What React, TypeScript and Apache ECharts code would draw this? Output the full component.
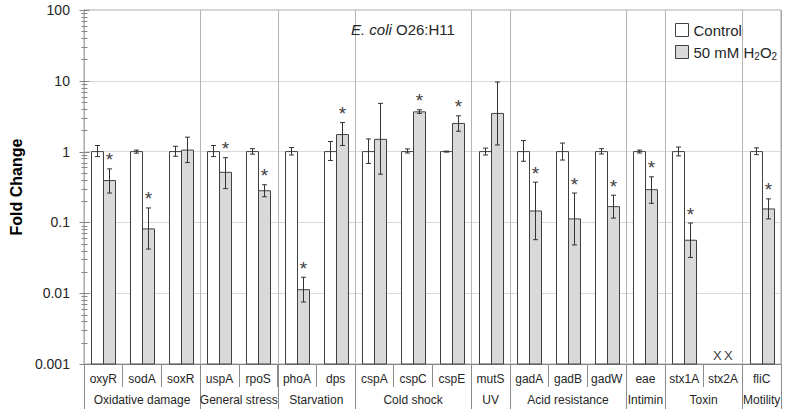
import React, { useEffect, useRef } from 'react';
import * as echarts from 'echarts';

const genes = ['oxyR', 'sodA', 'soxR', 'uspA', 'rpoS', 'phoA', 'dps', 'cspA', 'cspC', 'cspE', 'mutS', 'gadA', 'gadB', 'gadW', 'eae', 'stx1A', 'stx2A', 'fliC'];
const groupNames = ['Oxidative damage', 'General stress', 'Starvation', 'Cold shock', 'UV', 'Acid resistance', 'Intimin', 'Toxin', 'Motility'];
const groupSizes = [3, 2, 2, 3, 1, 3, 1, 2, 1];

const control = [1, 1, 1, 1, 1, 1, 1, 1, 1, 1, 1, 1, 1, 1, 1, 1, null, 1];
const controlLow = [0.85, 0.95, 0.86, 0.85, 0.92, 0.895, 0.75, 0.68, 0.955, 0.985, 0.895, 0.73, 0.76, 0.925, 0.955, 0.87, null, 0.905];
const controlHigh = [1.22, 1.05, 1.19, 1.22, 1.1, 1.14, 1.39, 1.51, 1.09, 1.015, 1.12, 1.43, 1.32, 1.1, 1.05, 1.16, null, 1.13];

const treated = [0.39, 0.081, 1.05, 0.51, 0.28, 0.0112, 1.74, 1.49, 3.64, 2.5, 3.46, 0.145, 0.112, 0.167, 0.29, 0.056, null, 0.155];
const treatedLow = [0.26, 0.042, 0.7, 0.3, 0.23, 0.0075, 1.22, 0.48, 3.46, 1.94, 1.24, 0.057, 0.048, 0.115, 0.186, 0.032, null, 0.112];
const treatedHigh = [0.57, 0.16, 1.6, 0.82, 0.34, 0.0168, 2.57, 4.8, 3.9, 3.2, 9.6, 0.37, 0.26, 0.242, 0.44, 0.098, null, 0.215];
const significant = [1, 1, 0, 1, 1, 1, 1, 0, 1, 1, 0, 1, 1, 1, 1, 1, 0, 1];
const notDetected = ['stx2A'];

const yTickValues = [0.001, 0.01, 0.1, 1, 10, 100];
const yTickLabels = ['0.001', '0.01', '0.1', '1', '10', '100'];

const FONT = '"Liberation Sans", Arial, sans-serif';
const TEXT = '#262626';
const BAR_EDGE = '#404040';
const ERR = '#333333';
const Y_MIN = yTickValues[0];
const Y_MAX = yTickValues[yTickValues.length - 1];

export default function App() {
  const ref = useRef<HTMLDivElement>(null);
  useEffect(() => {
    const chart = echarts.init(ref.current!, null, { renderer: 'svg' });

    const barRender = (offset: number, fill: string) => (params: any, api: any) => {
      const i = api.value(0);
      const v = api.value(1);
      if (!(v > 0)) return null;
      const lo = api.value(2);
      const hi = api.value(3);
      const sig = api.value(4);
      const p = api.coord([i, v]);
      const base = api.coord([i, Y_MIN])[1];
      const cx = Math.round(p[0] + offset) + 0.5;
      const yHi = api.coord([i, hi])[1];
      const yLo = api.coord([i, lo])[1];
      const es = { stroke: ERR, lineWidth: 1 };
      const children: any[] = [
        { type: 'rect', shape: { x: cx - 6, y: p[1], width: 12, height: base - p[1] }, style: { fill, stroke: BAR_EDGE, lineWidth: 1 } },
        { type: 'line', shape: { x1: cx, y1: yHi, x2: cx, y2: yLo }, style: es },
        { type: 'line', shape: { x1: cx - 2.5, y1: yHi, x2: cx + 2.5, y2: yHi }, style: es },
        { type: 'line', shape: { x1: cx - 2.5, y1: yLo, x2: cx + 2.5, y2: yLo }, style: es },
      ];
      if (sig) {
        children.push({
          type: 'text', x: cx, y: yHi - 9,
          style: { text: '*', fontSize: 19, fontFamily: FONT, fill: '#404040', align: 'center', verticalAlign: 'middle' },
        });
      }
      return { type: 'group', children };
    };

    const controlData = genes.map((g, i) => [i, control[i], controlLow[i], controlHigh[i], 0]);
    const treatedData = genes.map((g, i) => [i, treated[i], treatedLow[i], treatedHigh[i], significant[i]]);

    const groupData: any[] = [];
    let start = 0;
    groupNames.forEach((name, gi) => {
      groupData.push([start, 1, start + groupSizes[gi] - 1, gi]);
      start += groupSizes[gi];
    });

    const minorTicks: number[] = [];
    for (let d = 0; d < yTickValues.length - 1; d++) {
      for (let k = 2; k <= 9; k++) minorTicks.push(yTickValues[d] * k);
    }
    const tickData = [
      ...yTickValues.map((v) => [0, v, 1]),
      ...minorTicks.map((v) => [0, v, 0]),
    ];

    const option: any = {
      animation: false,
      textStyle: { fontFamily: FONT },
      grid: { left: 60, right: 6, top: 10, bottom: 47, show: true, borderColor: '#a6a6a6', borderWidth: 1, containLabel: false },
      title: {
        text: '{i|E. coli} O26:H11',
        left: 346,
        top: 17,
        textStyle: {
          fontFamily: FONT, fontSize: 15, fontWeight: 'normal', color: TEXT,
          rich: { i: { fontFamily: FONT, fontSize: 15, fontStyle: 'italic', color: TEXT } },
        },
      },
      legend: {
        orient: 'vertical',
        left: 670,
        top: 16,
        itemWidth: 13,
        itemHeight: 13,
        itemGap: 4,
        selectedMode: false,
        data: [
          { name: 'Control', icon: 'rect', itemStyle: { color: '#ffffff', borderColor: BAR_EDGE, borderWidth: 1 } },
          { name: '50 mM H2O2', icon: 'rect', itemStyle: { color: '#d9d9d9', borderColor: BAR_EDGE, borderWidth: 1 } },
        ],
        formatter: (name: string) => (name === 'Control' ? name : '50 mM H{sub|2}O{sub|2}'),
        textStyle: {
          fontFamily: FONT, fontSize: 15, color: TEXT, lineHeight: 18, padding: [0, 0, 0, 0],
          rich: { sub: { fontFamily: FONT, fontSize: 10, color: TEXT, lineHeight: 10, padding: [8, 0, 0, 0] } },
        },
      },
      xAxis: {
        type: 'category',
        data: genes,
        boundaryGap: true,
        axisLine: { show: true, lineStyle: { color: '#868686', width: 1 } },
        axisTick: { show: true, interval: 0, length: 23, alignWithLabel: false, lineStyle: { color: '#8c8c8c' } },
        axisLabel: { interval: 0, margin: 9, fontSize: 12, color: TEXT, fontFamily: FONT },
        splitLine: { show: false },
      },
      yAxis: {
        type: 'log',
        logBase: 10,
        min: Y_MIN,
        max: Y_MAX,
        name: 'Fold Change',
        nameLocation: 'middle',
        nameRotate: 90,
        nameGap: 47,
        nameTextStyle: { fontFamily: FONT, fontSize: 16, fontWeight: 'bold', color: '#000' },
        axisLine: { show: true, lineStyle: { color: '#868686' } },
        axisTick: { show: false },
        minorTick: { show: false },
        axisLabel: {
          margin: 14, fontSize: 14, color: TEXT, fontFamily: FONT,
          formatter: (v: number) => {
            const idx = yTickValues.findIndex((t) => Math.abs(Math.log10(t) - Math.log10(v)) < 1e-6);
            return idx >= 0 ? yTickLabels[idx] : '';
          },
        },
        splitLine: { show: true, lineStyle: { color: '#d9d9d9', width: 1 } },
      },
      series: [
        {
          name: 'axisTicks', type: 'custom', clip: false, silent: true, z: 5,
          data: tickData,
          encode: { x: 0, y: 1 },
          renderItem: (params: any, api: any) => {
            const v = api.value(1);
            const major = api.value(2);
            const p0 = api.coord([0, v]);
            const p1 = api.coord([1, v]);
            const ax = Math.round(p0[0] - (p1[0] - p0[0]) / 2) + 0.5;
            const y = Math.round(p0[1]) + 0.5;
            const half = major ? 5 : 3;
            return { type: 'line', shape: { x1: ax - half, y1: y, x2: ax + half, y2: y }, style: { stroke: '#868686', lineWidth: 1 } };
          },
        },
        {
          name: 'groups', type: 'custom', clip: false, silent: true, z: 1,
          data: groupData,
          encode: { x: 0, y: 1 },
          renderItem: (params: any, api: any) => {
            const s = api.value(0);
            const e = api.value(2);
            const gi = api.value(3);
            const ps = api.coord([s, Y_MAX]);
            const pe = api.coord([e, Y_MAX]);
            const bw = api.coord([1, Y_MAX])[0] - api.coord([0, Y_MAX])[0];
            const top = ps[1];
            const base = api.coord([s, Y_MIN])[1];
            const left = Math.round(ps[0] - bw / 2) + 0.5;
            const right = Math.round(pe[0] + bw / 2) + 0.5;
            const children: any[] = [
              { type: 'line', shape: { x1: left, y1: top, x2: left, y2: base }, style: { stroke: '#b3b3b3', lineWidth: 1 } },
              { type: 'line', shape: { x1: left, y1: base, x2: left, y2: base + 45 }, style: { stroke: '#8c8c8c', lineWidth: 1 } },
              {
                type: 'text', x: (ps[0] + pe[0]) / 2, y: base + 36,
                style: { text: groupNames[gi], fontSize: 12, fontFamily: FONT, fill: TEXT, align: 'center', verticalAlign: 'middle' },
              },
            ];
            if (gi === groupNames.length - 1) {
              children.push({ type: 'line', shape: { x1: right, y1: top, x2: right, y2: base }, style: { stroke: '#a6a6a6', lineWidth: 1 } });
              children.push({ type: 'line', shape: { x1: right, y1: base, x2: right, y2: base + 45 }, style: { stroke: '#8c8c8c', lineWidth: 1 } });
            }
            return { type: 'group', children };
          },
        },
        {
          name: 'Control', type: 'custom', z: 3,
          itemStyle: { color: '#ffffff', borderColor: BAR_EDGE },
          data: controlData,
          encode: { x: 0, y: 1 },
          renderItem: barRender(-6, '#ffffff'),
        },
        {
          name: '50 mM H2O2', type: 'custom', z: 3,
          itemStyle: { color: '#d9d9d9', borderColor: BAR_EDGE },
          data: treatedData,
          encode: { x: 0, y: 1 },
          renderItem: barRender(6, '#d9d9d9'),
        },
        {
          name: 'notDetected', type: 'custom', clip: false, silent: true, z: 4,
          data: notDetected.map((g) => [genes.indexOf(g), Y_MIN]),
          encode: { x: 0, y: 1 },
          renderItem: (params: any, api: any) => {
            const p = api.coord([api.value(0), Y_MIN]);
            const mk = (dx: number) => ({
              type: 'text', x: p[0] + dx, y: p[1] - 9,
              style: { text: 'X', fontSize: 13, fontFamily: FONT, fill: '#404040', align: 'center', verticalAlign: 'middle' },
            });
            return { type: 'group', children: [mk(-5.5), mk(5.5)] };
          },
        },
      ],
    };
    chart.setOption(option);
    return () => chart.dispose();
  }, []);
  return <div ref={ref} style={{ position: 'absolute', left: 0, top: 0, width: 787, height: 411 }} />;
}
